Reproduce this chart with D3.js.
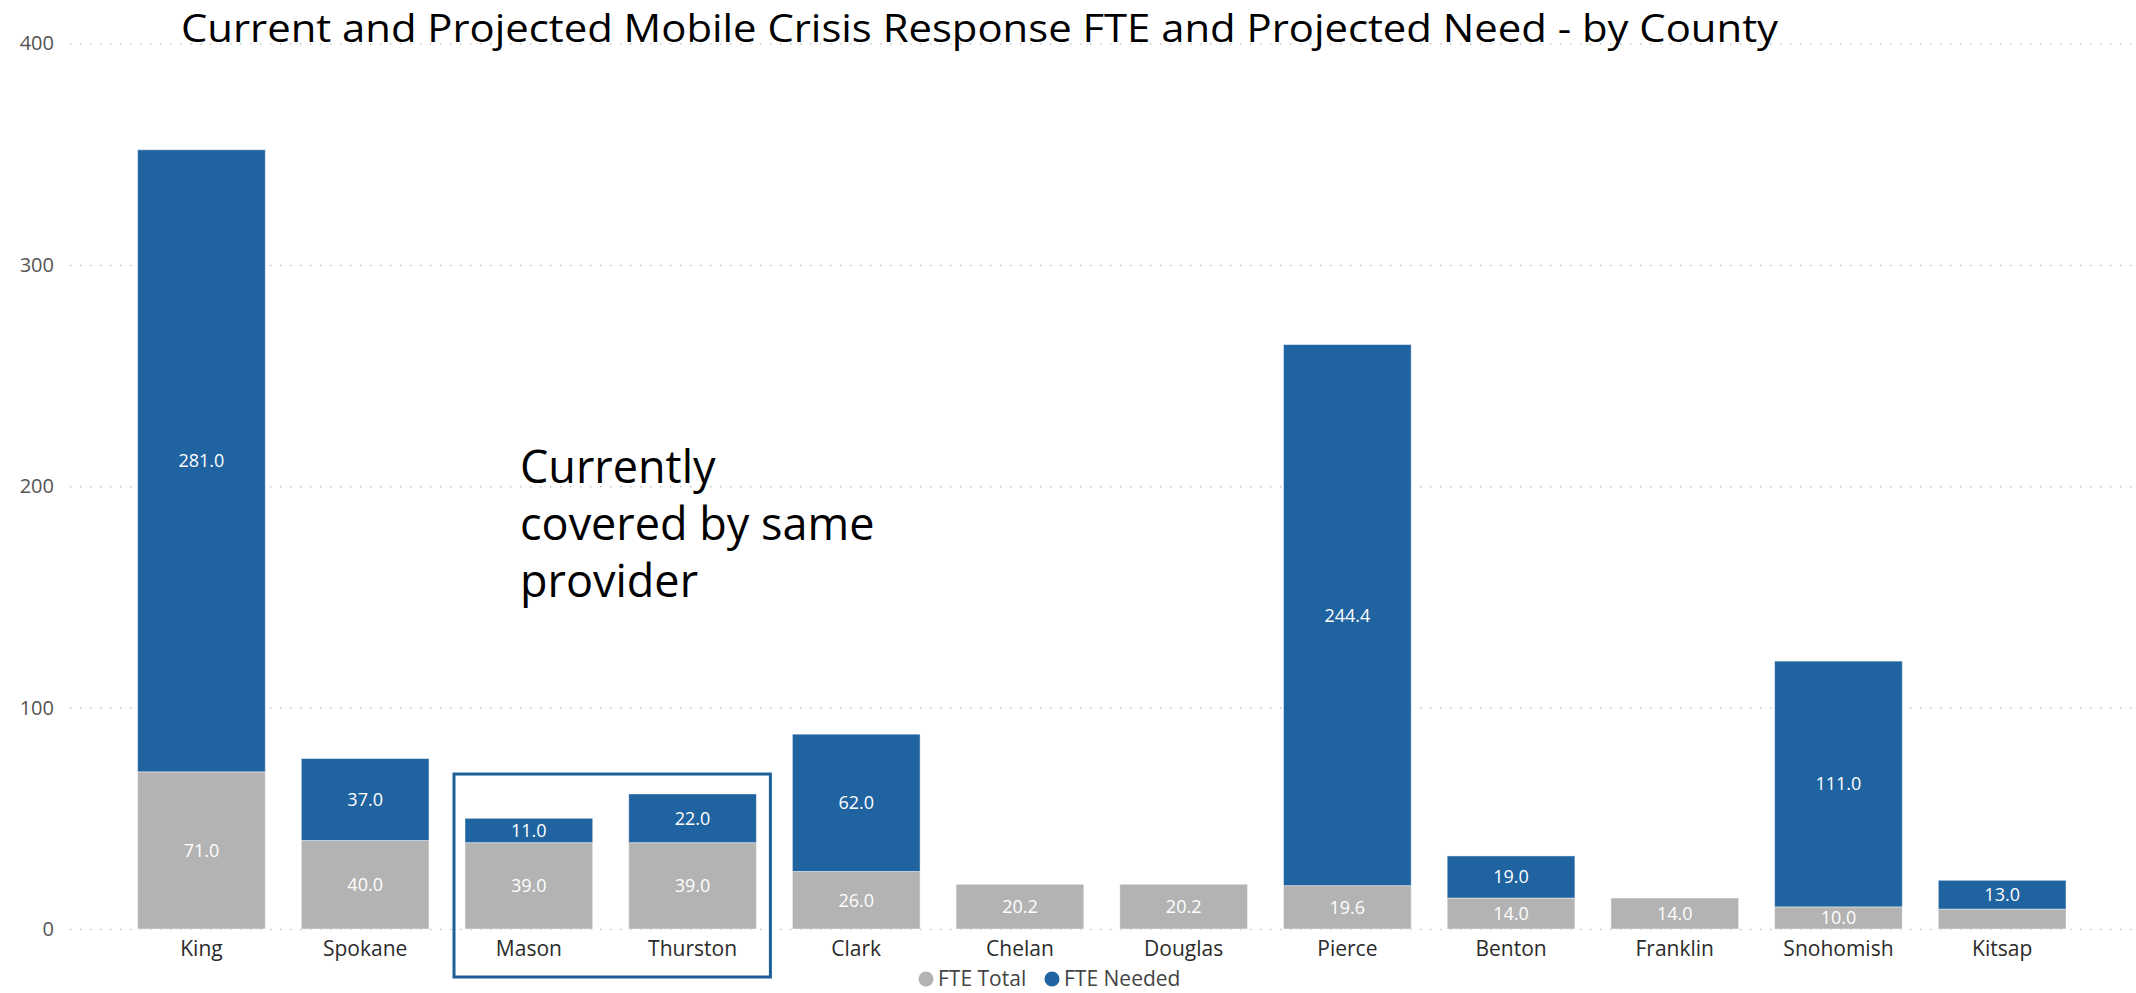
<!DOCTYPE html>
<html lang="en">
<head>
  <meta charset="UTF-8">
  <title>Mobile Crisis Response FTE</title>
  <style>
    body{margin: 0; background-color: #ffffff;}
    svg{display: block;}
  </style>
</head>
<body>
  <div id="chart-wrapper"></div>
  <script src="https://d3js.org/d3.v7.min.js"></script>
  <script>
  // DATA
  const counties = ["King", "Spokane", "Mason", "Thurston", "Clark", "Chelan", "Douglas", "Pierce", "Benton", "Franklin", "Snohomish", "Kitsap"];
  const fteTotal = [71, 40, 39, 39, 26, 20.2, 20.2, 19.6, 14, 14, 10, 9];
  const fteNeeded = [281, 37, 11, 22, 62, 0, 0, 244.4, 19, 0, 111, 13];
  const seriesNames = ["FTE Total", "FTE Needed"];
  const yTicks = [0, 100, 200, 300, 400];
  const groupedCounties = ["Mason", "Thurston"];
  const titleText = "Current and Projected Mobile Crisis Response FTE and Projected Need - by County";
  const noteLines = ["Currently", "covered by same", "provider"];

  // CONSTANTS
  const width = 2136;
  const height = 993;
  const cgray = "#b3b3b3";
  const cblue = "#1f63a0";
  const cbox = "#1f5f99";
  const font = "'Open Sans', 'Noto Sans', sans-serif";

  const rows = counties.map((c, i) => ({county: c, "FTE Total": fteTotal[i], "FTE Needed": fteNeeded[i]}));
  const stacked = d3.stack().keys(seriesNames)(rows);
  const color = d3.scaleOrdinal().domain(seriesNames).range([cgray, cblue]);

  // SCALES
  const x = d3.scaleBand()
    .domain(counties)
    .range([119.6, 2084])
    .paddingInner(0.22)
    .paddingOuter(0.11);

  const y = d3.scaleLinear()
    .domain([0, 400])
    .range([929, 43.5]);

  // SVG SETTINGS
  const svg = d3.select("#chart-wrapper").append("svg")
    .attr("width", width)
    .attr("height", height)
    .attr("viewBox", [0, 0, width, height])
    .style("font-family", font);

  // GRID + Y AXIS
  const yAxis = svg.append("g")
    .attr("transform", "translate(70,0)")
    .call(d3.axisLeft(y).tickValues(yTicks).tickSize(0).tickPadding(16).tickFormat(d3.format("d")));
  yAxis.select(".domain").remove();
  yAxis.selectAll("text")
    .style("font-family", font)
    .style("font-size", "20px")
    .attr("fill", "#555555");
  yAxis.selectAll(".tick").append("line")
    .attr("x1", 0)
    .attr("x2", width - 72)
    .attr("stroke", "#c6c6c6")
    .attr("stroke-width", 1.5)
    .attr("stroke-dasharray", "1.5,8.5");

  // BARS
  const layers = svg.append("g")
    .selectAll("g")
    .data(stacked)
    .join("g")
    .attr("fill", d => color(d.key));

  layers.selectAll("rect")
    .data(d => d.filter(s => s[1] - s[0] > 0))
    .join("rect")
    .attr("x", d => x(d.data.county))
    .attr("y", d => y(d[1]))
    .attr("width", x.bandwidth())
    .attr("height", d => y(d[0]) - y(d[1]))
    .attr("stroke", "#ffffff")
    .attr("stroke-opacity", 0.45)
    .attr("stroke-width", 1);

  // DATA LABELS (hidden on tiny segments)
  layers.selectAll("text")
    .data(d => d.filter(s => s[1] - s[0] >= 10))
    .join("text")
    .attr("x", d => x(d.data.county) + x.bandwidth() / 2)
    .attr("y", d => (y(d[0]) + y(d[1])) / 2)
    .attr("dy", "0.36em")
    .attr("text-anchor", "middle")
    .attr("fill", "#ffffff")
    .style("font-size", "18px")
    .text(d => d3.format(".1f")(d[1] - d[0]));

  // X AXIS LABELS
  const xAxis = svg.append("g")
    .attr("transform", `translate(0,${y(0)})`)
    .call(d3.axisBottom(x).tickSize(0).tickPadding(12));
  xAxis.select(".domain").remove();
  xAxis.selectAll("text")
    .style("font-family", font)
    .style("font-size", "21px")
    .attr("fill", "#2b2b2b");

  // GROUP BOX (Mason + Thurston)
  const bx0 = x(groupedCounties[0]) - 11;
  const bx1 = x(groupedCounties[groupedCounties.length - 1]) + x.bandwidth() + 14;
  svg.append("rect")
    .attr("x", bx0)
    .attr("y", y(70))
    .attr("width", bx1 - bx0)
    .attr("height", 977 - y(70))
    .attr("fill", "none")
    .attr("stroke", cbox)
    .attr("stroke-width", 3);

  // NOTE
  svg.append("text")
    .attr("x", 520)
    .attr("y", 483)
    .attr("fill", "#000000")
    .style("font-size", "45px")
    .selectAll("tspan")
    .data(noteLines)
    .join("tspan")
    .attr("x", 520)
    .attr("dy", (d, i) => i === 0 ? 0 : 57)
    .text(d => d);

  // TITLE
  svg.append("text")
    .attr("x", 181)
    .attr("y", 42)
    .attr("fill", "#000000")
    .attr("textLength", 1597)
    .attr("lengthAdjust", "spacingAndGlyphs")
    .style("font-size", "38px")
    .text(titleText);

  // LEGEND
  const legend = svg.append("g")
    .attr("transform", "translate(926,979)");
  const legendX = [0, 126];
  const item = legend.selectAll("g")
    .data(seriesNames)
    .join("g")
    .attr("transform", (d, i) => `translate(${legendX[i]},0)`);
  item.append("circle")
    .attr("r", 7.5)
    .attr("fill", d => color(d));
  item.append("text")
    .attr("x", 12)
    .attr("dy", "0.35em")
    .attr("fill", "#444444")
    .style("font-size", "21px")
    .text(d => d);
  </script>
</body>
</html>
